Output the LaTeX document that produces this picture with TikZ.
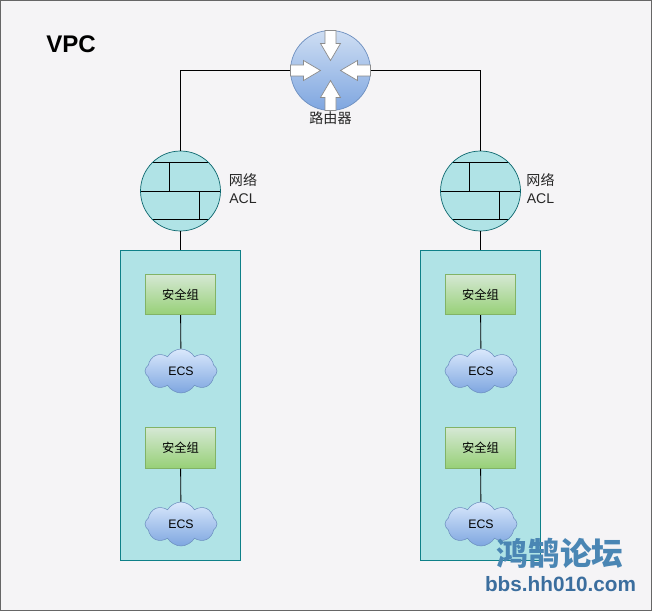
\documentclass[tikz,border=0pt]{standalone}
\usepackage{fontspec}
\setmainfont{Liberation Sans}
\newfontfamily\cjk{Noto Sans CJK SC}
\usetikzlibrary{shapes.symbols}

\definecolor{pagebg}{HTML}{F5F4F6}
\definecolor{pageline}{HTML}{666666}
\definecolor{tealfill}{HTML}{B0E3E6}
\definecolor{tealline}{HTML}{0E8088}
\definecolor{routertop}{HTML}{CFDEF3}
\definecolor{routerbot}{HTML}{7EA6E0}
\definecolor{grouptop}{HTML}{D5E8D4}
\definecolor{groupbot}{HTML}{97D077}
\definecolor{groupline}{HTML}{82B366}
\definecolor{cloudtop}{HTML}{DAE8FC}
\definecolor{cloudbot}{HTML}{7EA6E0}
\definecolor{cloudline}{HTML}{6C8EBF}
\definecolor{markblue}{HTML}{4A86B4}
\definecolor{urlblue}{HTML}{3B6E9E}

\tikzset{
  label6/.style={font=\fontsize{7}{8.5}\selectfont, text=black, inner sep=0pt},
  label8/.style={font=\fontsize{8}{9.5}\selectfont, text=black!85, inner sep=0pt},
  wire/.style={draw=black, line width=0.5pt},
  aclwall/.style={circle, draw=tealline!80!black, fill=tealfill, minimum size=1.6cm, inner sep=0pt, line width=0.4pt,
    path picture={
      \draw[black, line width=0.45pt] (-40,0) -- (40,0);
      \draw[black, line width=0.45pt] (-40,-29) -- (40,-29) (-11,-29) -- (-11,0);
      \draw[black, line width=0.45pt] (-40,28) -- (40,28) (19,0) -- (19,28);
    }},
  routerdisc/.style={circle, draw=cloudline, top color=routertop, bottom color=routerbot, minimum size=1.6cm, inner sep=0pt, line width=0.4pt},
  routerarrow/.style={draw=black!45, fill=white, line width=0.4pt, line join=miter},
  subnetbox/.style={rectangle, draw=tealline, fill=tealfill, minimum width=2.4cm, minimum height=6.2cm, inner sep=0pt, line width=0.4pt},
  groupbox/.style={rectangle, draw=groupline, top color=grouptop, bottom color=groupbot, minimum width=1.4cm, minimum height=0.81cm, inner sep=0pt, line width=0.3pt, label6},
  ecscloud/.style={cloud, cloud puffs=8, cloud puff arc=120, aspect=1.8, draw=cloudline, top color=cloudtop, bottom color=cloudbot, minimum width=1.44cm, minimum height=0.88cm, inner sep=0pt, line width=0.3pt, label6},
}

\begin{document}
\begin{tikzpicture}[x=0.02cm, y=-0.02cm]
\useasboundingbox (0,0) rectangle (652,611);

% page
\draw[draw=pageline, fill=pagebg, line width=1.1pt] (0,0) rectangle (652,611);
\node[font=\fontsize{13.7}{15}\selectfont\bfseries, inner sep=0pt] (vpc) at (71,44) {VPC};

% router in the middle
\node[routerdisc] (router) at (330.5,70.5) {};
\foreach \ang in {0,90,180,270}
  \draw[routerarrow, shift={(330.5,70.5)}, rotate=\ang]
    (40,-5.5) -- (27,-5.5) -- (27,-10) -- (10,0) -- (27,10) -- (27,5.5) -- (40,5.5) -- cycle;
\node[label8] (routertext) at (330.5,118) {\cjk 路由器};

% the two columns
\foreach \s/\x/\off in {l/180.5/62.5, r/480.5/60}{
  \node[subnetbox] (subnet\s) at (\x,405) {};
  \node[aclwall] (acl\s) at (\x,191) {};
  \node[label8, align=center, anchor=center] (acltext\s) at (\x+\off,188.5) {{\cjk 网络}\\[0.4pt]ACL};
  \node[groupbox] (groupa\s) at (\x,294.5) {\cjk 安全组};
  \node[ecscloud] (ecsa\s) at (\x+0.5,371) {ECS};
  \node[groupbox] (groupb\s) at (\x,448) {\cjk 安全组};
  \node[ecscloud] (ecsb\s) at (\x+0.5,524) {ECS};
  \draw[wire] (acl\s) -- (subnet\s);
  \draw[wire] (groupa\s) -- (ecsa\s);
  \draw[wire] (groupb\s) -- (ecsb\s);
}

% uplinks
\draw[wire] (router.west) -| (acll.north);
\draw[wire] (router.east) -| (aclr.north);

% site mark
\node[font=\fontsize{18}{20}\selectfont\cjk\bfseries, text=markblue, inner sep=0pt] (marktext) at (560,553) {鸿鹄论坛};
\node[font=\fontsize{11.8}{13}\selectfont\bfseries, text=urlblue, inner sep=0pt] (markurl) at (560.5,584) {bbs.hh010.com};
\end{tikzpicture}
\end{document}
